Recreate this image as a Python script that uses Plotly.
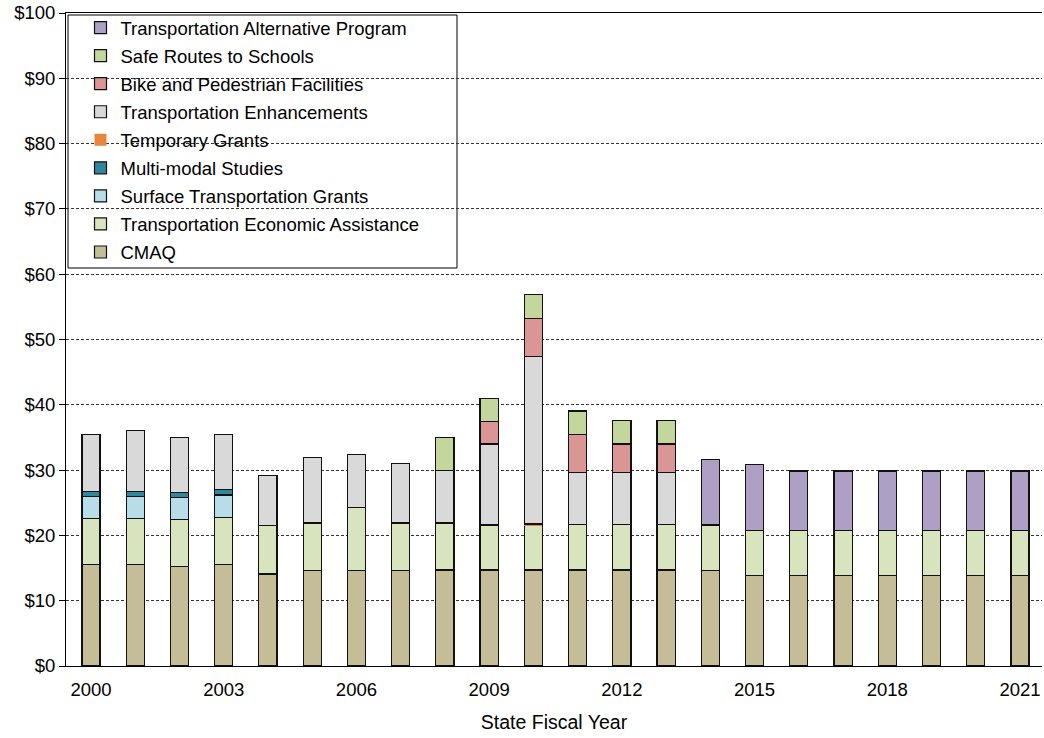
import plotly.graph_objects as go

years = list(range(2000, 2022))

cmaq = [15.6, 15.6, 15.2, 15.6, 14.1, 14.65, 14.65, 14.65, 14.7, 14.7, 14.7, 14.7, 14.7, 14.7,
        14.65, 13.8, 13.8, 13.8, 13.8, 13.8, 13.8, 13.8]
econ_assist = [7.0, 7.0, 7.2, 7.2, 7.4, 7.25, 9.65, 7.25, 7.2, 6.9, 6.85, 7.0, 7.0, 7.0,
               6.95, 7.0, 7.0, 7.0, 7.0, 7.0, 7.0, 7.0]
surface_grants = [3.3, 3.3, 3.4, 3.4] + [0] * 18
multimodal = [0.8, 0.8, 0.8, 0.8] + [0] * 18
temp_grants = [0] * 10 + [0.2] + [0] * 11
enhancements = [8.8, 9.4, 8.4, 8.4, 7.7, 10.0, 8.1, 9.1, 8.05, 12.4, 25.6, 7.9, 7.9, 7.9] + [0] * 8
bike_ped = [0] * 9 + [3.5, 5.9, 5.9, 4.4, 4.4] + [0] * 8
safe_routes = [0] * 8 + [5.0, 3.5, 3.6, 3.55, 3.6, 3.6] + [0] * 8
tap = [0] * 14 + [10.0, 10.0, 9.05, 9.05, 9.05, 9.05, 9.05, 9.05]

series = [
    ("CMAQ", cmaq, "#C4BD97"),
    ("Transportation Economic Assistance", econ_assist, "#D7E4BD"),
    ("Surface Transportation Grants", surface_grants, "#B7DEE8"),
    ("Multi-modal Studies", multimodal, "#31859C"),
    ("Temporary Grants", temp_grants, "#E9853C"),
    ("Transportation Enhancements", enhancements, "#D9D9D9"),
    ("Bike and Pedestrian Facilities", bike_ped, "#D99694"),
    ("Safe Routes to Schools", safe_routes, "#C3D69B"),
    ("Transportation Alternative Program", tap, "#ADA0C4"),
]

fig = go.Figure()
n = len(series)
for i, (name, vals, color) in enumerate(series):
    lw = 0 if name == "Temporary Grants" else 1.2
    fig.add_trace(go.Bar(
        x=years, y=[v if v > 0 else None for v in vals], name=name,
        marker=dict(color=color, line=dict(color="#111111", width=lw)),
        width=0.41, legendgroup=name, legendrank=(n - i) * 10,
    ))

W, H = 1044, 738
L, T, R, B = 66, 13, 2, 72
pw = W - L - R
ph = H - T - B

fig.update_layout(
    barmode="stack",
    width=W, height=H,
    margin=dict(l=L, r=R, t=T, b=B),
    paper_bgcolor="white", plot_bgcolor="white",
    font=dict(family="Liberation Sans, Arial, sans-serif", size=18.5, color="black"),
    showlegend=True,
    legend=dict(
        x=14.5 / pw, y=1.006, xanchor="left", yanchor="top",
        traceorder="grouped", tracegroupgap=1,
        bgcolor="rgba(0,0,0,0)", borderwidth=0,
        font=dict(size=18.5),
    ),
    xaxis=dict(
        range=[1999.435, 2021.497], tickmode="array", tickvals=list(range(2000, 2022, 3)),
        showline=True, linecolor="black", linewidth=1, mirror=True,
        ticks="", showgrid=False, zeroline=False, ticklabelstandoff=7,
        title=dict(text="State Fiscal Year", standoff=16, font=dict(size=19.5)),
    ),
    yaxis=dict(
        range=[0, 100], dtick=10, tickprefix="$",
        showline=True, linecolor="black", linewidth=1,
        ticks="outside", ticklen=6, tickcolor="black",
        showgrid=True, gridcolor="#333333", gridwidth=1, griddash="3px,2px",
        zeroline=False,
    ),
    shapes=[dict(type="rect", xref="paper", yref="paper",
                 x0=2 / pw, x1=391 / pw,
                 y0=(653 - 255) / ph, y1=(653 - 2) / ph,
                 line=dict(color="black", width=1), fillcolor="white", layer="below")],
)

fig.write_html("out.html", config={"displayModeBar": False},
               post_script="document.body.style.margin='0';")
